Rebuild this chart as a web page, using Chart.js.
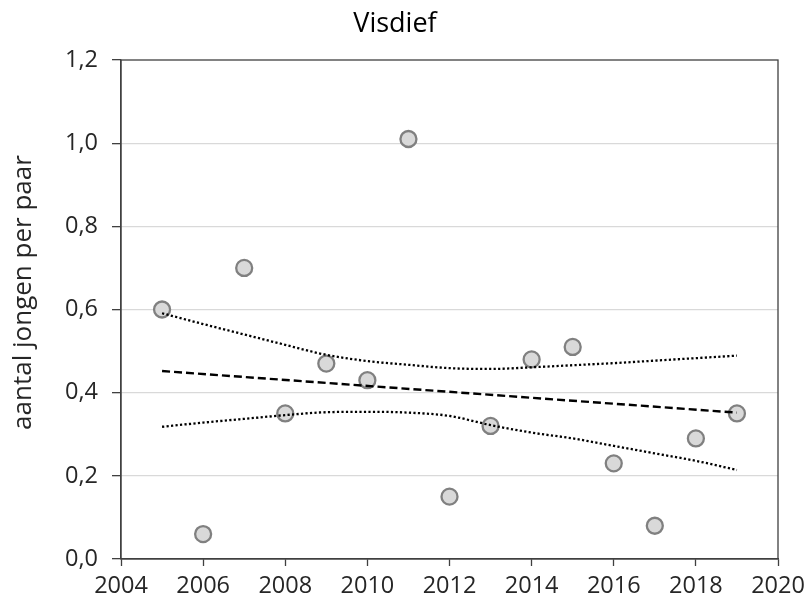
<!DOCTYPE html>
<html>
<head>
<meta charset="utf-8">
<script src="https://cdn.jsdelivr.net/npm/chart.js@4/dist/chart.umd.min.js"></script>
<style>
  html, body { margin: 0; padding: 0; background: #ffffff; }
  #wrap { width: 808px; height: 605px; }
</style>
</head>
<body>
<div id="wrap"><canvas id="c" width="808" height="605"></canvas></div>
<script>
// Visdief: broedsucces (aantal jongen per paar) per jaar
const years = [2005, 2006, 2007, 2008, 2009, 2010, 2011, 2012, 2013, 2014, 2015, 2016, 2017, 2018, 2019];
const jongenPerPaar = [0.60, 0.06, 0.70, 0.35, 0.47, 0.43, 1.01, 0.15, 0.32, 0.48, 0.51, 0.23, 0.08, 0.29, 0.35];

// lineaire trend (begin- en eindjaar)
const trendYears = [2005, 2019];
const trendValues = [0.452, 0.352];

// betrouwbaarheidsband rond de trend
const upperBand = [0.591, 0.565, 0.540, 0.515, 0.491, 0.476, 0.467, 0.459, 0.457, 0.461, 0.466, 0.471, 0.477, 0.483, 0.489];
const lowerBand = [0.318, 0.328, 0.337, 0.346, 0.353, 0.354, 0.352, 0.344, 0.322, 0.304, 0.290, 0.272, 0.254, 0.236, 0.214];

const xTicks = [2004, 2006, 2008, 2010, 2012, 2014, 2016, 2018, 2020];
const yTicks = [0.0, 0.2, 0.4, 0.6, 0.8, 1.0, 1.2];
const yAxisTitle = 'aantal jongen per paar';

const FONT = "'Open Sans', 'Noto Sans', sans-serif";
const TEXT = '#262626';
const AXIS = '#404040';

const pairs = (xs, ys) => xs.map((x, i) => ({ x: x, y: ys[i] }));

// kader rond het plotgebied
const frame = {
  id: 'frame',
  afterDatasetsDraw(chart) {
    const a = chart.chartArea, ctx = chart.ctx;
    ctx.save();
    ctx.strokeStyle = AXIS;
    ctx.lineWidth = 1.3;
    ctx.strokeRect(a.left, a.top, a.right - a.left, a.bottom - a.top);
    ctx.restore();
  }
};

// verticale astitel links van de y-as
const yTitle = {
  id: 'yTitle',
  afterDraw(chart) {
    const ctx = chart.ctx;
    ctx.save();
    ctx.translate(31, 292.5);
    ctx.rotate(-Math.PI / 2);
    ctx.font = "26px " + FONT;
    ctx.fillStyle = TEXT;
    ctx.textAlign = 'center';
    ctx.textBaseline = 'alphabetic';
    ctx.fillText(yAxisTitle, 0, 0);
    ctx.restore();
  }
};

new Chart(document.getElementById('c'), {
  type: 'scatter',
  data: {
    datasets: [
      {
        type: 'line', label: 'trend', data: pairs(trendYears, trendValues),
        borderColor: '#000000', borderWidth: 2.4, borderDash: [8, 4],
        pointRadius: 0, fill: false, order: 1
      },
      {
        type: 'line', label: 'boven', data: pairs(years, upperBand),
        borderColor: '#000000', borderWidth: 2.3, borderDash: [2.2, 2.3],
        pointRadius: 0, fill: false, cubicInterpolationMode: 'monotone', order: 2
      },
      {
        type: 'line', label: 'onder', data: pairs(years, lowerBand),
        borderColor: '#000000', borderWidth: 2.3, borderDash: [2.2, 2.3],
        pointRadius: 0, fill: false, cubicInterpolationMode: 'monotone', order: 3
      },
      {
        label: 'Visdief', data: pairs(years, jongenPerPaar),
        backgroundColor: '#d9d9d9', borderColor: '#808080', borderWidth: 2.3,
        pointRadius: 8, pointHoverRadius: 8, order: 4
      }
    ]
  },
  options: {
    responsive: false,
    animation: false,
    events: [],
    layout: { padding: { left: 12, right: 30, top: 0, bottom: 0 } },
    plugins: {
      legend: { display: false },
      tooltip: { enabled: false },
      title: {
        display: true, text: 'Visdief', color: '#000000',
        font: { family: FONT, size: 27, weight: 'normal', lineHeight: 1.2 },
        padding: { top: 8, bottom: 19.6 }
      }
    },
    scales: {
      x: {
        type: 'linear', min: 2004, max: 2020,
        afterBuildTicks(scale) { scale.ticks = xTicks.map(v => ({ value: v })); },
        afterFit(scale) { scale.height = 46; scale.paddingLeft = 0; scale.paddingRight = 0; },
        border: { display: true, color: AXIS, width: 1.3 },
        grid: { drawOnChartArea: false, drawTicks: true, tickLength: 7, tickColor: AXIS, tickWidth: 1.3 },
        ticks: {
          color: TEXT, padding: 6, maxRotation: 0, autoSkip: false,
          font: { family: FONT, size: 23.5 },
          callback: v => String(v)
        }
      },
      y: {
        type: 'linear', min: 0, max: 1.2,
        afterBuildTicks(scale) { scale.ticks = yTicks.map(v => ({ value: v })); },
        afterFit(scale) { scale.width = 109; scale.paddingTop = 0; scale.paddingBottom = 0; },
        border: { display: true, color: AXIS, width: 1.3 },
        grid: {
          drawOnChartArea: true, drawTicks: true, tickLength: 9,
          color: ctx => (ctx.tick && ctx.tick.value > 0 && ctx.tick.value < 1.2) ? '#d9d9d9' : 'rgba(0,0,0,0)',
          lineWidth: 1.3, tickColor: AXIS, tickWidth: 1.3
        },
        ticks: {
          color: TEXT, padding: 14, autoSkip: false,
          font: { family: FONT, size: 23.5 },
          callback: v => v.toFixed(1).replace('.', ',')
        }
      }
    }
  },
  plugins: [frame, yTitle]
});
</script>
</body>
</html>
